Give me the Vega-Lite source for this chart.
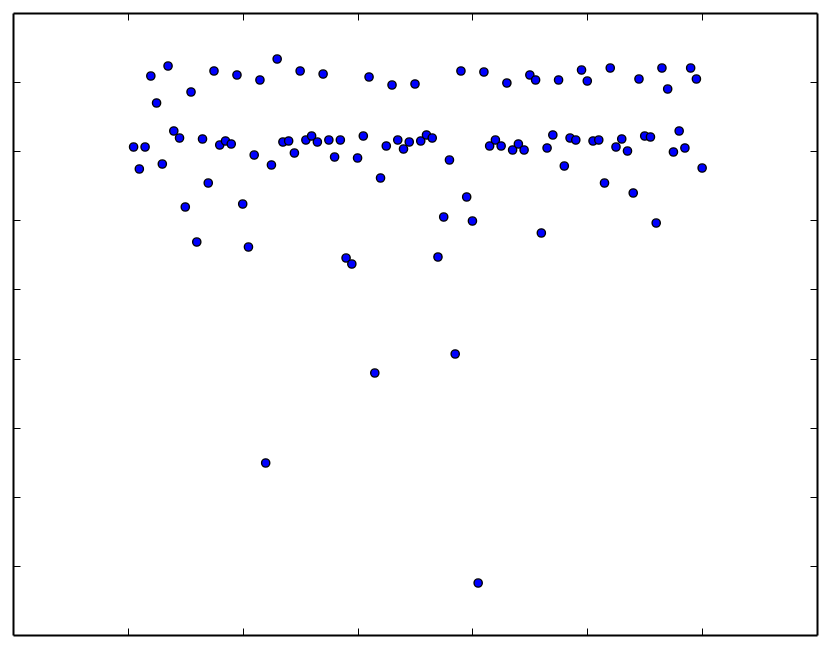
{
  "$schema": "https://vega.github.io/schema/vega-lite/v6.json",
  "width": 804,
  "height": 622,
  "autosize": {"type": "none"},
  "padding": {"left": 13, "top": 13, "right": 13, "bottom": 14},
  "background": "white",
  "config": {"view": {"stroke": null}},
  "data": {"values": [
    {"x": 1, "y": 70.61}, {"x": 2, "y": 67.43}, {"x": 3, "y": 70.61}, {"x": 4, "y": 80.88}, {"x": 5, "y": 76.98},
    {"x": 6, "y": 68.15}, {"x": 7, "y": 82.33}, {"x": 8, "y": 72.93}, {"x": 9, "y": 71.91}, {"x": 10, "y": 61.93},
    {"x": 11, "y": 78.57}, {"x": 12, "y": 56.86}, {"x": 13, "y": 71.77}, {"x": 14, "y": 65.40}, {"x": 15, "y": 81.61},
    {"x": 16, "y": 70.90}, {"x": 17, "y": 71.48}, {"x": 18, "y": 71.05}, {"x": 19, "y": 81.03}, {"x": 20, "y": 62.36},
    {"x": 21, "y": 56.14}, {"x": 22, "y": 69.45}, {"x": 23, "y": 80.31}, {"x": 24, "y": 24.89}, {"x": 25, "y": 68.01},
    {"x": 26, "y": 83.34}, {"x": 27, "y": 71.33}, {"x": 28, "y": 71.48}, {"x": 29, "y": 69.74}, {"x": 30, "y": 81.61},
    {"x": 31, "y": 71.62}, {"x": 32, "y": 72.20}, {"x": 33, "y": 71.33}, {"x": 34, "y": 81.17}, {"x": 35, "y": 71.62},
    {"x": 36, "y": 69.16}, {"x": 37, "y": 71.62}, {"x": 38, "y": 54.55}, {"x": 39, "y": 53.68}, {"x": 40, "y": 69.02},
    {"x": 41, "y": 72.20}, {"x": 42, "y": 80.74}, {"x": 43, "y": 37.91}, {"x": 44, "y": 66.13}, {"x": 45, "y": 70.76},
    {"x": 46, "y": 79.58}, {"x": 47, "y": 71.62}, {"x": 48, "y": 70.32}, {"x": 49, "y": 71.33}, {"x": 50, "y": 79.73},
    {"x": 51, "y": 71.48}, {"x": 52, "y": 72.35}, {"x": 53, "y": 71.91}, {"x": 54, "y": 54.69}, {"x": 55, "y": 60.48},
    {"x": 56, "y": 68.73}, {"x": 57, "y": 40.66}, {"x": 58, "y": 81.61}, {"x": 59, "y": 63.38}, {"x": 60, "y": 59.90},
    {"x": 61, "y": 7.52}, {"x": 62, "y": 81.46}, {"x": 63, "y": 70.76}, {"x": 64, "y": 71.62}, {"x": 65, "y": 70.76},
    {"x": 66, "y": 79.87}, {"x": 67, "y": 70.18}, {"x": 68, "y": 71.05}, {"x": 69, "y": 70.18}, {"x": 70, "y": 81.03},
    {"x": 71, "y": 80.31}, {"x": 72, "y": 58.17}, {"x": 73, "y": 70.47}, {"x": 74, "y": 72.35}, {"x": 75, "y": 80.31},
    {"x": 76, "y": 67.86}, {"x": 77, "y": 71.91}, {"x": 78, "y": 71.62}, {"x": 79, "y": 81.75}, {"x": 80, "y": 80.16},
    {"x": 81, "y": 71.48}, {"x": 82, "y": 71.62}, {"x": 83, "y": 65.40}, {"x": 84, "y": 82.04}, {"x": 85, "y": 70.61},
    {"x": 86, "y": 71.77}, {"x": 87, "y": 70.03}, {"x": 88, "y": 63.96}, {"x": 89, "y": 80.45}, {"x": 90, "y": 72.20},
    {"x": 91, "y": 72.06}, {"x": 92, "y": 59.61}, {"x": 93, "y": 82.04}, {"x": 94, "y": 79.00}, {"x": 95, "y": 69.89},
    {"x": 96, "y": 72.93}, {"x": 97, "y": 70.47}, {"x": 98, "y": 82.04}, {"x": 99, "y": 80.45}, {"x": 100, "y": 67.57}
  ]},
  "layer": [
    {
      "mark": {"type": "circle", "size": 0, "opacity": 0},
      "encoding": {
        "x": {"field": "x", "type": "quantitative", "scale": {"domain": [-20, 120], "nice": false, "zero": false},
          "axis": {"orient": "top", "values": [0, 20, 40, 60, 80, 100], "labels": false, "title": null, "grid": false, "tickSize": -7, "tickColor": "black", "tickWidth": 1, "domainColor": "black", "domainWidth": 2}},
        "y": {"field": "y", "type": "quantitative", "scale": {"domain": [0, 90], "nice": false, "zero": false},
          "axis": {"orient": "right", "values": [10, 20, 30, 40, 50, 60, 70, 80], "labels": false, "title": null, "grid": false, "tickSize": -7, "tickColor": "black", "tickWidth": 1, "domainColor": "black", "domainWidth": 2}}
      }
    },
    {
      "mark": {"type": "circle", "size": 68, "fill": "#0000ff", "stroke": "black", "strokeWidth": 1.4, "opacity": 1},
      "encoding": {
        "x": {"field": "x", "type": "quantitative",
          "axis": {"orient": "bottom", "values": [0, 20, 40, 60, 80, 100], "labels": false, "title": null, "grid": false, "tickSize": -7, "tickColor": "black", "tickWidth": 1, "domainColor": "black", "domainWidth": 2}},
        "y": {"field": "y", "type": "quantitative",
          "axis": {"orient": "left", "values": [10, 20, 30, 40, 50, 60, 70, 80], "labels": false, "title": null, "grid": false, "tickSize": -7, "tickColor": "black", "tickWidth": 1, "domainColor": "black", "domainWidth": 2}}
      }
    }
  ],
  "resolve": {"axis": {"x": "independent", "y": "independent"}}
}
